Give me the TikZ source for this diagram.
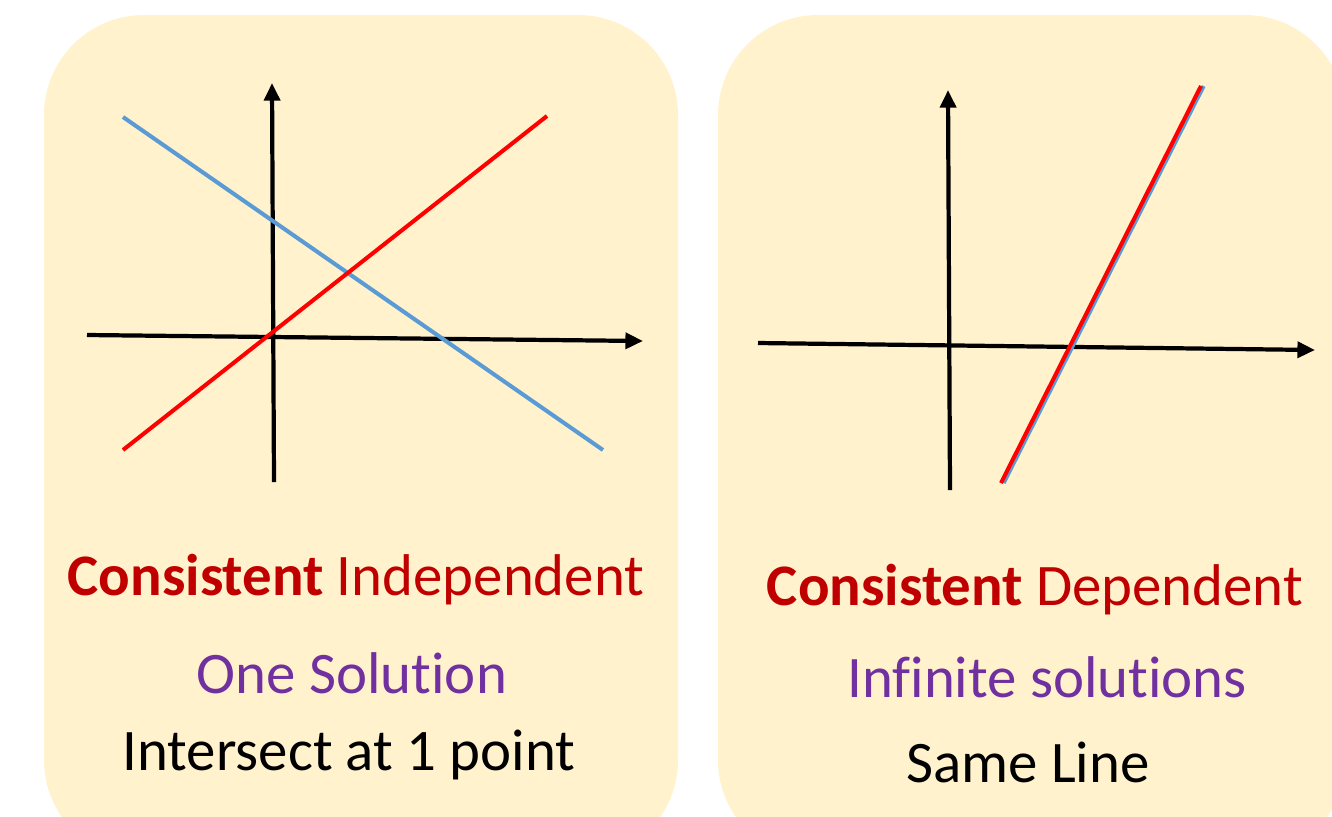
\documentclass[tikz,border=0pt]{standalone}
\usepackage{fontspec}
\setmainfont{Carlito}[Ligatures=NoCommon]
\usetikzlibrary{arrows.meta}
\definecolor{panelfill}{HTML}{FFF2CC}
\definecolor{darkred}{HTML}{C00000}
\definecolor{lineblue}{HTML}{5B9BD5}
\definecolor{linered}{HTML}{FF0000}
\definecolor{purp}{HTML}{7030A0}
\tikzset{
    axis/.style={line width=2.4pt, ->},
    graphline/.style={line width=2.3pt},
    caption/.style={font=\fontsize{33.5}{40}\selectfont, inner sep=0pt},
}
\begin{document}
\begin{tikzpicture}[x=0.02cm, y=-0.02cm, >={Triangle[length=10pt,width=9pt]}]
    \useasboundingbox (0,0) rectangle (1332,816);

    % Panels
    \fill[panelfill, rounded corners=2cm] (44,15) rectangle (678,860);
    \fill[panelfill, rounded corners=2cm] (718,15) rectangle (1345,860);

    % Left graph: axes
    \coordinate (L0) at (274,482);
    \coordinate (Ly) at (272,83);
    \coordinate (Lx0) at (87,335);
    \coordinate (Lx) at (643,341);
    \draw[axis] (L0) -- (Ly);
    \draw[axis] (Lx0) -- (Lx);

    % Left graph: lines
    \coordinate (A) at (123,450);
    \coordinate (B) at (547,116);
    \coordinate (C) at (123,117);
    \coordinate (D) at (603,450);
    \draw[graphline, lineblue] (C) -- (D);
    \draw[graphline, linered] (A) -- (B);

    % Right graph: axes
    \coordinate (R0) at (950,490);
    \coordinate (Ry) at (948,90);
    \coordinate (Rx0) at (758,343);
    \coordinate (Rx) at (1315,350);
    \draw[axis] (R0) -- (Ry);
    \draw[axis] (Rx0) -- (Rx);

    % Right graph: same line twice
    \coordinate (E) at (1001,483);
    \coordinate (F) at (1201,86);
    \draw[graphline, lineblue] ([xshift=1.5pt]E) -- ([xshift=1.5pt]F);
    \draw[graphline, linered] (E) -- (F);

    % Labels
    \node[caption, darkred] (ci) at (356,580) {\textbf{Consistent} Independent};
    \node[caption, purp] (one) at (352,673) {One Solution};
    \node[caption] (pt) at (349,755) {Intersect at 1 point};
    \node[caption, darkred] (cd) at (1035,590) {\textbf{Consistent} Dependent};
    \node[caption, purp] (inf) at (1047,677) {Infinite solutions};
    \node[caption] (same) at (1028,762) {Same Line};
\end{tikzpicture}
\end{document}
